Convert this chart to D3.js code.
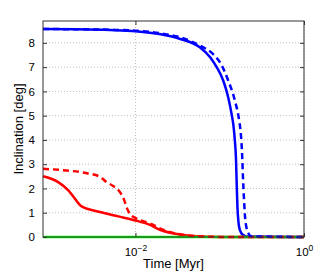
<!DOCTYPE html>
<html lang="en">
<head>
<meta charset="UTF-8">
<title>inclination vs time</title>
<script src="https://d3js.org/d3.v7.min.js"></script>
<style>
    body { margin: 0; background: #fff; }
    text { font-family: "Liberation Sans", Arial, sans-serif; fill: #000; }
</style>
</head>
<body>
<svg id="chart" width="336" height="273"></svg>
<script>
// values (t in Myr, inclination in deg)
const blueSolidT = [8e-4, 2e-3, 5e-3, 1e-2, 2e-2, 3.4e-2, 5.8e-2, 7.7e-2, 9.2e-2, 0.110, 0.126, 0.138, 0.1454, 0.151, 0.156, 0.159, 0.162, 0.167, 0.174, 0.188, 0.210, 1];
const blueSolidV = [8.57, 8.56, 8.53, 8.48, 8.35, 8.16, 7.82, 7.41, 7.0, 6.45, 5.76, 5.09, 4.6, 4.0, 3.2, 2.2, 1.3, 0.6, 0.27, 0.09, 0.02, 0];

const blueDashT = [8e-4, 2e-3, 5e-3, 1e-2, 2e-2, 4.85e-2, 0.1005, 0.126, 0.151, 0.170, 0.1785, 0.1844, 0.1885, 0.1938, 0.199, 0.2073, 0.216, 0.235, 1];
const blueDashV = [8.57, 8.56, 8.54, 8.50, 8.39, 8.02, 7.2, 6.45, 5.63, 4.8, 4.2, 3.4, 2.5, 1.6, 0.9, 0.4, 0.2, 0.03, 0];

const redSolidT = [8e-4, 1.21e-3, 1.6e-3, 1.91e-3, 2.3e-3, 3.79e-3, 6.25e-3, 1e-2, 1.49e-2, 1.95e-2, 3.37e-2, 5.82e-2, 0.1, 1];
const redSolidV = [2.50, 2.26, 1.92, 1.58, 1.26, 1.03, 0.85, 0.68, 0.5, 0.3, 0.1, 0.02, 0.005, 0];

const redDashT = [8e-4, 1.53e-3, 2.64e-3, 3.79e-3, 4.55e-3, 5.45e-3, 6.55e-3, 7.3e-3, 7.9e-3, 8.6e-3, 1.03e-2, 1.49e-2, 2.12e-2, 3.37e-2, 5.37e-2, 0.1, 1];
const redDashV = [2.81, 2.74, 2.63, 2.48, 2.26, 2.1, 1.85, 1.55, 1.2, 0.95, 0.76, 0.56, 0.3, 0.11, 0.03, 0.005, 0];

const greenT = [8e-4, 1];
const greenV = [0, 0];

const yTicks = [0, 1, 2, 3, 4, 5, 6, 7, 8];
const xTicks = [1e-2, 1];
const xTickExp = ["\u22122", "0"];

const margin = {top: 21, right: 32, bottom: 36, left: 43};
const W = 336, H = 273;
const w = W - margin.left - margin.right;
const h = H - margin.top - margin.bottom;

const svg = d3.select("#chart");
const g = svg.append("g").attr("transform", `translate(${margin.left},${margin.top})`);

const x = d3.scaleLog().domain([8e-4, 1]).range([0, w]);
const y = d3.scaleLinear().domain([0, 8.9]).range([h, 0]);

// grid
g.selectAll(".hgrid").data(yTicks.filter(d => d > 0)).enter().append("line")
    .attr("x1", 0).attr("x2", w)
    .attr("y1", d => y(d)).attr("y2", d => y(d))
    .attr("stroke", "#c0c0c0").attr("stroke-width", 1).attr("stroke-dasharray", "1,2");
g.selectAll(".vgrid").data(xTicks).enter().append("line")
    .attr("x1", d => x(d)).attr("x2", d => x(d))
    .attr("y1", 0).attr("y2", h)
    .attr("stroke", "#c0c0c0").attr("stroke-width", 1).attr("stroke-dasharray", "1,2");

// curves
const line = d3.line().x(d => x(d[0])).y(d => y(d[1])).curve(d3.curveMonotoneX);
const zip = (a, b) => a.map((t, i) => [t, b[i]]);

function drawLine(t, v, color, dashed) {
    g.append("path").datum(zip(t, v))
        .attr("d", line)
        .attr("fill", "none")
        .attr("stroke", color)
        .attr("stroke-width", 2.5)
        .attr("stroke-dasharray", dashed ? "6,4" : null);
}
drawLine(blueSolidT, blueSolidV, "#0000ff", false);
drawLine(redSolidT, redSolidV, "#ff0000", false);
drawLine(greenT, greenV, "#00ff00", false);
drawLine(redDashT, redDashV, "#ff0000", true);
drawLine(blueDashT, blueDashV, "#0000ff", true);

// axes box with inward ticks
const axisColor = "#333";
g.append("rect").attr("x", 0).attr("y", 0).attr("width", w).attr("height", h)
    .attr("fill", "none").attr("stroke", axisColor).attr("stroke-width", 1);

const yAxisL = d3.axisLeft(y).tickValues(yTicks).tickSizeInner(-4).tickSizeOuter(0).tickPadding(8).tickFormat(d3.format("d"));
const yAxisR = d3.axisRight(y).tickValues(yTicks).tickSizeInner(-4).tickSizeOuter(0).tickFormat("");
const xAxisB = d3.axisBottom(x).tickValues(xTicks).tickSizeInner(-4).tickSizeOuter(0).tickFormat("");
const xAxisT = d3.axisTop(x).tickValues(xTicks).tickSizeInner(-4).tickSizeOuter(0).tickFormat("");

const gl = g.append("g").call(yAxisL);
g.append("g").attr("transform", `translate(${w},0)`).call(yAxisR);
const gb = g.append("g").attr("transform", `translate(0,${h})`).call(xAxisB);
g.append("g").call(xAxisT);

g.selectAll(".domain").remove();
g.selectAll(".tick line").attr("stroke", axisColor);
gl.selectAll("text").attr("font-size", 11.5).attr("fill", "#000")
    .style("font-family", "Liberation Sans, Arial, sans-serif");

// log tick labels 10^n
gb.selectAll(".tick").each(function(d, i) {
    const t = d3.select(this).append("text").attr("y", 19).attr("text-anchor", "middle")
        .attr("font-size", 11.5).attr("fill", "#000");
    t.append("tspan").text("10");
    t.append("tspan").attr("dy", -5).attr("font-size", 8.5).text(xTickExp[i]);
});

// axis titles
svg.append("text")
    .attr("x", margin.left + w / 2).attr("y", 268)
    .attr("text-anchor", "middle").attr("font-size", 13)
    .text("Time [Myr]");
svg.append("text")
    .attr("transform", `translate(23,${margin.top + h / 2}) rotate(-90)`)
    .attr("text-anchor", "middle").attr("font-size", 13)
    .text("Inclination [deg]");
</script>
</body>
</html>
